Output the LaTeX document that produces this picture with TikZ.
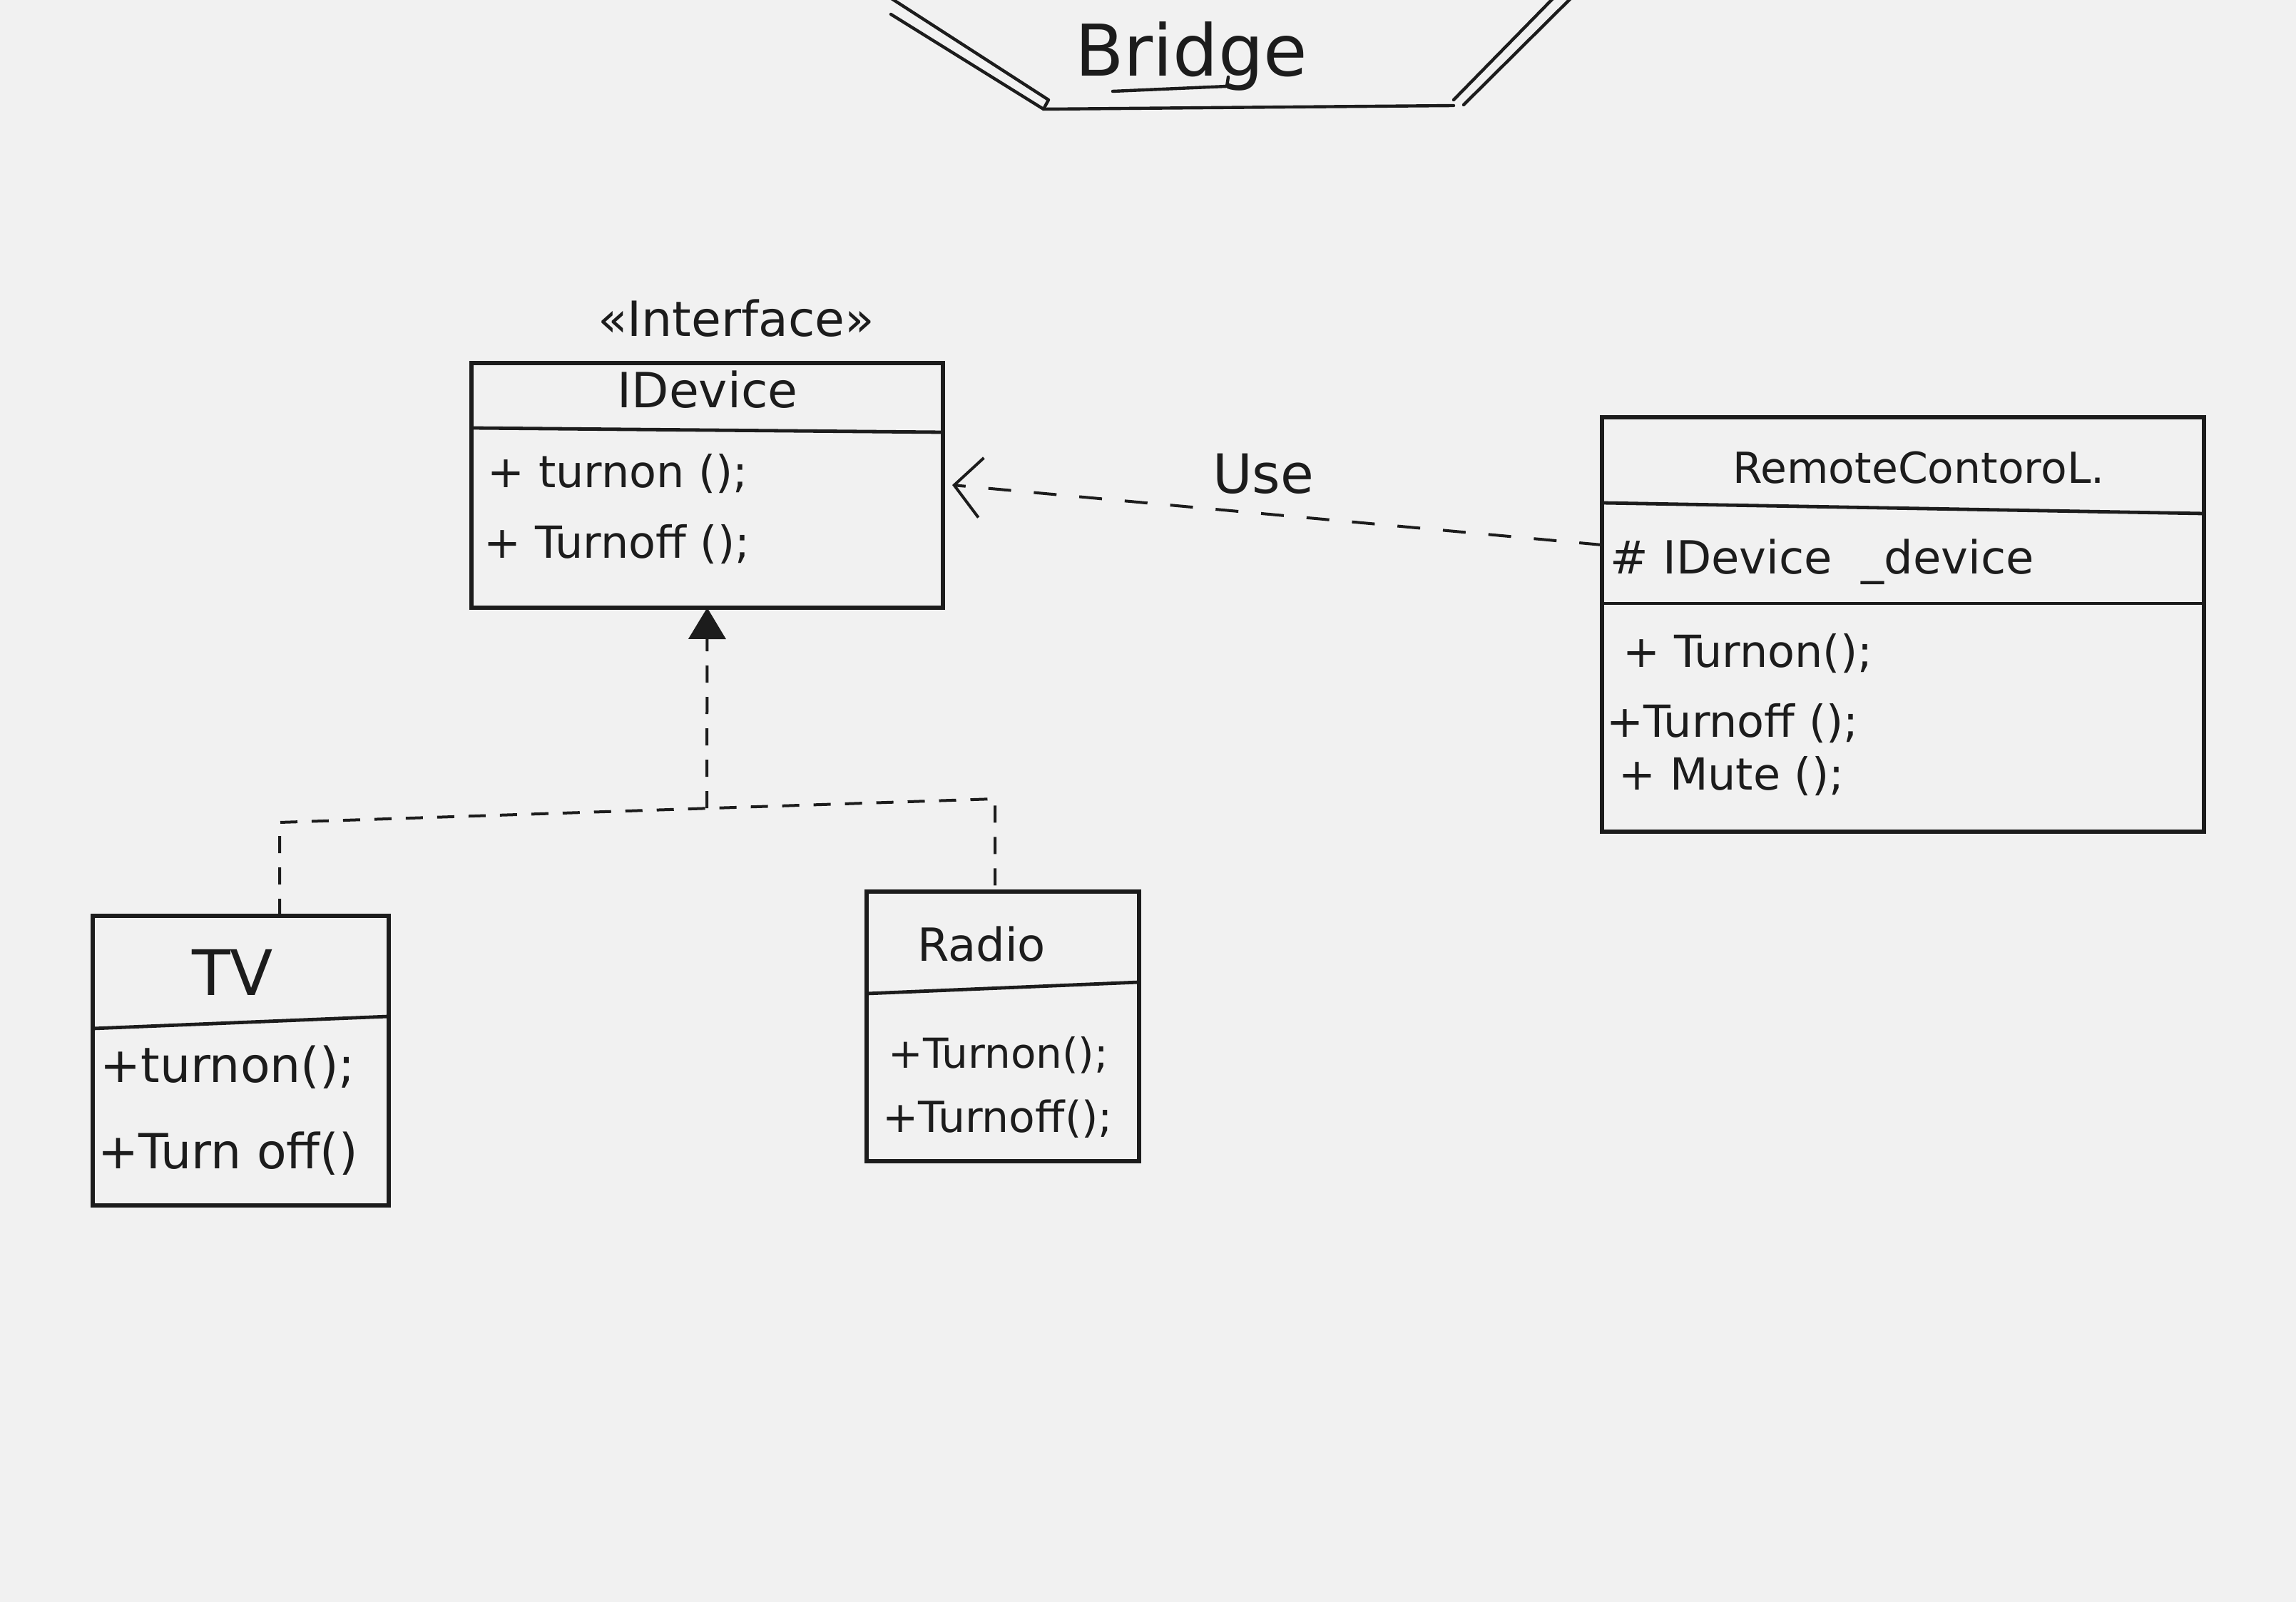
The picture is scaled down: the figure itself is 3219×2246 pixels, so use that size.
\documentclass[tikz,border=0pt]{standalone}
\usepackage{fontspec}
\setmainfont{DejaVu Sans}
\usetikzlibrary{arrows.meta}
\definecolor{ink}{HTML}{1C1C1C}
\definecolor{paper}{HTML}{F1F1F1}
\newcommand\myfs[1]{\fontsize{#1}{#1}\selectfont}
\tikzset{
  pen/.style={draw=ink, line width=2.2pt, line cap=round, line join=round},
  classbox/.style={draw=ink, line width=2.8pt, inner sep=0pt, outer sep=0pt, anchor=north west},
  divider/.style={draw=ink, line width=2.4pt, line cap=round},
  member/.style={anchor=base west, inner sep=0pt, text=ink},
  ctitle/.style={anchor=base, inner sep=0pt, text=ink},
  realize/.style={draw=ink, line width=2pt, dash pattern=on 12pt off 10pt},
  uses/.style={draw=ink, line width=2pt, dash pattern=on 16pt off 16pt},
}
\begin{document}
\begin{tikzpicture}[x=0.5pt,y=-0.5pt]
\fill[paper] (0,0) rectangle (3219,2246);
\useasboundingbox (0,0) rectangle (3219,2246);

% title with bridge sketch
\node[ctitle, font={\myfs{50}}] (title) at (1670,107) {Bridge};
\draw[pen] (1560,128) -- (1720,121) -- (1722,108);
\draw[pen] (1222,-20) -- (1470,140) -- (1463,153) -- (2038,148);
\draw[pen] (1249,20) -- (1463,153);
\draw[pen] (2038,140) -- (2185,-10);
\draw[pen] (2052,147) -- (2210,-10);

% IDevice
\node[ctitle, font={\myfs{34}}] (stereo) at (1032,472) {«Interface»};
\node[classbox, minimum width=330.5pt, minimum height=171.5pt] (idev) at (661,509) {};
\draw[divider] (idev.west |- 0,600) -- (idev.east |- 0,606);
\node[ctitle, font={\myfs{34}}] (idevname) at (992,572) {IDevice};
\node[member, font={\myfs{31}}] (idevm1) at (683,683) {+ turnon ();};
\node[member, font={\myfs{31}}] (idevm2) at (678,783) {+ Turnoff ();};

% RemoteControl
\node[classbox, minimum width=422pt, minimum height=290.5pt] (rc) at (2246,585) {};
\draw[divider] (rc.west |- 0,705) -- (rc.east |- 0,720);
\draw[divider] (rc.west |- 0,846) -- (rc.east |- 0,846);
\node[ctitle, font={\myfs{30}}] (rcname) at (2690,678) {RemoteContoroL.};
\node[member, font={\myfs{32}}] (rcattr) at (2257,805) {\#\ IDevice\ \ \_device};
\node[member, font={\myfs{31}}] (rcm1) at (2275,935) {+ Turnon();};
\node[member, font={\myfs{31}}] (rcm2) at (2252,1033) {+Turnoff ();};
\node[member, font={\myfs{31}}] (rcm3) at (2269,1107) {+ Mute ();};

% TV
\node[classbox, minimum width=207.5pt, minimum height=203pt] (tv) at (130,1284) {};
\draw[divider] (tv.west |- 0,1442) -- (tv.east |- 0,1425);
\node[ctitle, font={\myfs{44}}] (tvname) at (326,1395) {TV};
\node[member, font={\myfs{34}}] (tvm1) at (140,1517) {+turnon();};
\node[member, font={\myfs{34}}] (tvm2) at (137,1638) {+Turn off()};

% Radio
\node[classbox, minimum width=191pt, minimum height=189pt] (rad) at (1215,1250) {};
\draw[divider] (rad.west |- 0,1393) -- (rad.east |- 0,1377);
\node[ctitle, font={\myfs{32}}] (radname) at (1376,1347) {Radio};
\node[member, font={\myfs{29}}] (radm1) at (1245,1497) {+Turnon();};
\node[member, font={\myfs{30}}] (radm2) at (1237,1587) {+Turnoff();};

% realization connectors
\coordinate (tvup) at (392,1153);
\coordinate (radup) at (1395,1120);
\coordinate (jn) at (991,1133);
\draw[realize] (tv.north -| tvup) -- (tvup) -- (radup) -- (rad.north -| radup);
\draw[realize, -{Triangle[length=22pt,width=26pt]}] (jn) -- (idev.south);

% dependency "Use"
\draw[uses, -{Straight Barb[length=19pt,width=42pt]}] (rc.west |- 0,764) -- ([xshift=6.5pt]idev.east |- 0,680);
\node[ctitle, font={\myfs{38}}] (uselbl) at (1771,692) {Use};
\end{tikzpicture}
\end{document}
